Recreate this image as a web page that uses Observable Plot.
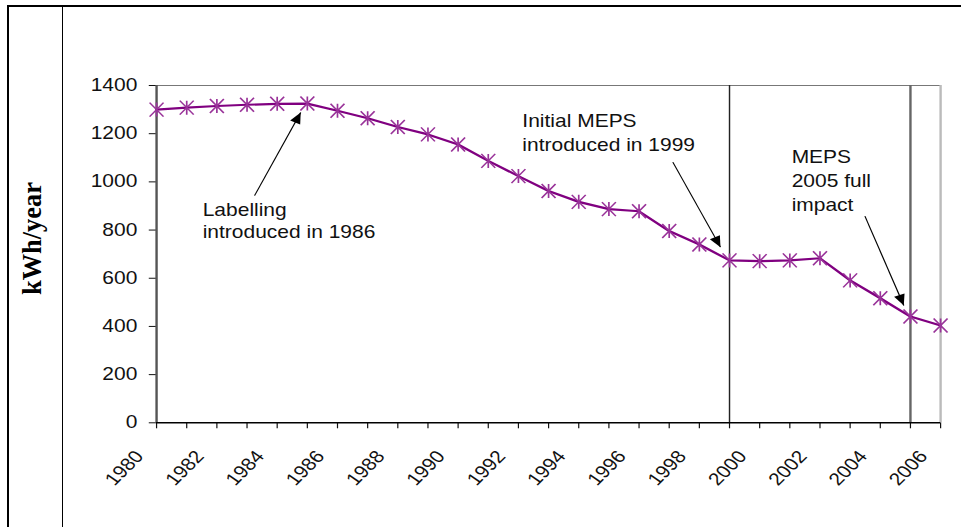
<!DOCTYPE html>
<html>
<head>
<meta charset="utf-8">
<script src="https://cdn.jsdelivr.net/npm/d3@7"></script>
<script src="https://cdn.jsdelivr.net/npm/@observablehq/plot@0.6"></script>
<style>
html, body { margin: 0; padding: 0; background: #fff; }
#wrap { position: relative; width: 961px; height: 527px; overflow: hidden; background: #fff; }
#chart svg { display: block; }
.frame { position: absolute; left: 7.4px; top: 4.8px; width: 2000px; height: 2000px;
         border-left: 2.7px solid #000; border-top: 2.5px solid #000; pointer-events: none; }
.sep { position: absolute; left: 61.8px; top: 6px; bottom: 0; border-left: 1.4px solid #000; pointer-events: none; }
</style>
</head>
<body>
<div id="wrap"><div id="chart"></div><div class="frame"></div><div class="sep"></div></div>
<script>
// ---------------- data ----------------
const years = [1980, 1981, 1982, 1983, 1984, 1985, 1986, 1987, 1988, 1989,
               1990, 1991, 1992, 1993, 1994, 1995, 1996, 1997, 1998, 1999,
               2000, 2001, 2002, 2003, 2004, 2005, 2006];
const consumption = [1300, 1308, 1315, 1320, 1324, 1325, 1295, 1264, 1228, 1197,
                     1155, 1087, 1024, 962, 917, 887, 878, 796, 740, 674,
                     671, 674, 683, 591, 517, 441, 404];
const xTickLabels = [1980, 1982, 1984, 1986, 1988, 1990, 1992, 1994, 1996, 1998, 2000, 2002, 2004, 2006];
const yTicks = [0, 200, 400, 600, 800, 1000, 1200, 1400];
const policyYears = [1999, 2005];
const yLabel = "kWh/year";
const noteTexts = ["Labelling\nintroduced in 1986", "Initial MEPS\nintroduced in 1999", "MEPS\n2005 full\nimpact"];
const noteX = [1981.53, 1992.13, 2001.06];
const noteY = [767, 1127, 881];
const arrowFromX = [1983.25, 1997.12, 2003.49];
const arrowFromY = [943, 1082, 858];
const arrowToX = [1984.78, 1998.70, 2004.78];
const arrowToY = [1288, 729, 487];

// ---------------- layout ----------------
const SCREEN_W = 961, H = 527, STRETCH = 1.2;
const W = Math.round(SCREEN_W / STRETCH);
const M = {top: 85, right: 17.5, bottom: 104.7, left: 130};

const data = years.map((year, i) => ({year, kwh: consumption[i]}));
const notes = noteTexts.map((text, i) => ({text, x: noteX[i], y: noteY[i]}));
const arrows = arrowFromX.map((x1, i) => ({x1, y1: arrowFromY[i], x2: arrowToX[i], y2: arrowToY[i]}));

// pixel helpers (same mapping as the plot scales) for arrowhead orientation
const px = d3.scaleLinear([1980, 2006], [M.left, W - M.right]);
const py = d3.scaleLinear([0, 1400], [H - M.bottom, M.top]);

const star = {
  draw(ctx) {
    const a = 7, b = 5.8;
    ctx.moveTo(0, -a); ctx.lineTo(0, a);
    ctx.moveTo(-b, -a); ctx.lineTo(b, a);
    ctx.moveTo(-b, a); ctx.lineTo(b, -a);
  }
};
function head(a) {
  const dxp = px(a.x2) - px(a.x1), dyp = py(a.y2) - py(a.y1);
  const L = Math.hypot(dxp, dyp), ux = dxp / L, uy = dyp / L;
  const len = 11, half = 4.6;
  return {
    draw(ctx) {
      const bx = -ux * len, by = -uy * len;
      ctx.moveTo(0, 0);
      ctx.lineTo(bx - uy * half, by + ux * half);
      ctx.lineTo(bx + uy * half, by - ux * half);
      ctx.closePath();
    }
  };
}

const svg = Plot.plot({
  width: W,
  height: H,
  marginTop: M.top, marginRight: M.right, marginBottom: M.bottom, marginLeft: M.left,
  style: {fontFamily: "'Liberation Sans', Arial, sans-serif", fontSize: "17.5px", color: "#111", background: "#fff", overflow: "visible"},
  x: {domain: [1980, 2006], ticks: years, tickSize: 6, tickFormat: () => "", label: null},
  y: {domain: [0, 1400], ticks: yTicks, tickSize: 6, tickPadding: 10, tickFormat: d => String(d), label: null},
  marks: [
    Plot.ruleY([1400], {stroke: "#777", strokeWidth: 1}),
    Plot.ruleX([2006], {stroke: "#bbb", strokeWidth: 2}),
    Plot.ruleX(policyYears, {x: d => d, stroke: (d) => d === 1999 ? "#222" : "#666", strokeWidth: (d) => d === 1999 ? 1.2 : 2}),
    Plot.ruleX([1980], {stroke: "#555", strokeWidth: 2}),
    Plot.ruleY([0], {stroke: "#000", strokeWidth: 1.5}),
    Plot.line(data, {x: "year", y: "kwh", stroke: "#800080", strokeWidth: 2.2}),
    Plot.dot(data, {x: "year", y: "kwh", symbol: star, stroke: "#993399", strokeWidth: 1.4, fill: "none"}),
    Plot.link(arrows, {x1: "x1", y1: "y1", x2: "x2", y2: "y2", stroke: "#000", strokeWidth: 1}),
    ...arrows.map(a => Plot.dot([a], {x: "x2", y: "y2", symbol: head(a), fill: "#000", stroke: "none"})),
    Plot.text([notes[0]], {x: "x", y: "y", text: "text", textAnchor: "start", lineAnchor: "bottom", lineHeight: 1.27, fontSize: 17.5, fill: "#111"}),
    Plot.text(notes.slice(1), {x: "x", y: "y", text: "text", textAnchor: "start", lineAnchor: "bottom", lineHeight: 1.37, fontSize: 17.5, fill: "#111"}),
    Plot.text(xTickLabels, {x: d => d, y: () => 0, text: d => String(d), rotate: -50, textAnchor: "end", lineAnchor: "bottom", dx: -10, dy: 34, fontSize: 17.5, fill: "#111"}),
    Plot.text([yLabel], {frameAnchor: "left", text: d => d, rotate: -90, textAnchor: "middle", lineAnchor: "middle", dx: -103.5, dy: -15.6,
      fontFamily: "'Liberation Serif', 'Times New Roman', serif", fontWeight: "bold", fontSize: 23, fill: "#000"})
  ]
});

svg.setAttribute("width", SCREEN_W);
svg.setAttribute("height", H);
svg.setAttribute("viewBox", `0 0 ${W} ${H}`);
svg.setAttribute("preserveAspectRatio", "none");
svg.style.width = SCREEN_W + "px";
svg.style.height = H + "px";
svg.style.maxWidth = "none";
svg.querySelectorAll("text").forEach(t => {
  if (t.textContent === yLabel) {
    t.setAttribute("textLength", 113);
    t.setAttribute("lengthAdjust", "spacingAndGlyphs");
  }
});
document.getElementById("chart").appendChild(svg);
</script>
</body>
</html>
